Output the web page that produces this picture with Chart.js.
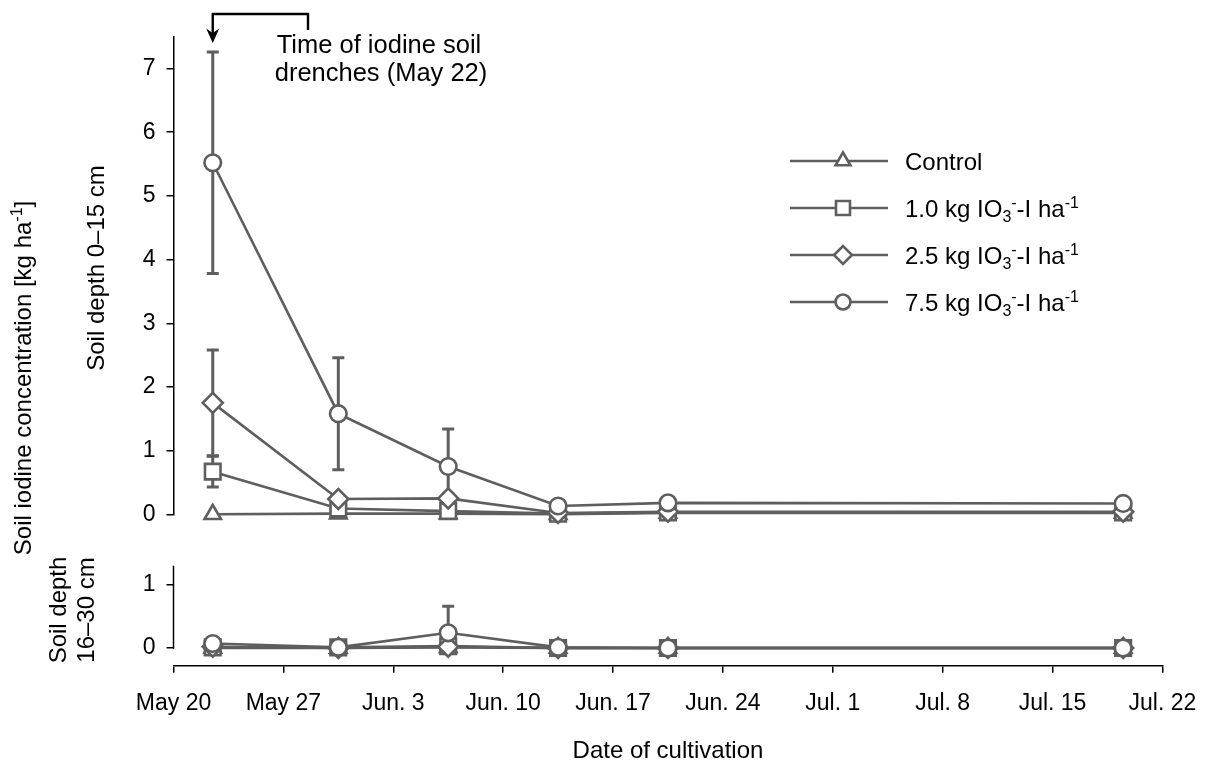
<!DOCTYPE html>
<html>
<head>
<meta charset="utf-8">
<title>Soil iodine concentration</title>
<script src="https://cdn.jsdelivr.net/npm/chart.js@4/dist/chart.umd.min.js"></script>
<style>
  html, body { margin: 0; padding: 0; background: #fff; }
  #wrap { position: relative; width: 1206px; height: 769px; }
  #wrap canvas { position: absolute; left: 0; top: 0; }
</style>
</head>
<body>
<div id="wrap">
  <canvas id="upper" width="1206" height="769"></canvas>
  <canvas id="lower" width="1206" height="769"></canvas>
</div>
<script>
// ---- data ----
const tickLabels = ['May 20', 'May 27', 'Jun. 3', 'Jun. 10', 'Jun. 17', 'Jun. 24', 'Jul. 1', 'Jul. 8', 'Jul. 15', 'Jul. 22'];
const sampleDates = ['May 22', 'May 30', 'Jun 6', 'Jun 13', 'Jun 20', 'Jul 19'];
const drenchDate = 'May 22';
const seriesNames = ['Control', '1.0 kg IO_{3}^{-}-I ha^{-1}', '2.5 kg IO_{3}^{-}-I ha^{-1}', '7.5 kg IO_{3}^{-}-I ha^{-1}'];

// soil depth 0–15 cm, kg ha-1 (mean, standard deviation)
const upperControl = [0.00, 0.01, 0.01, 0.00, 0.02, 0.02];
const upperIodate10 = [0.67, 0.09, 0.05, 0.01, 0.03, 0.03];
const upperIodate25 = [1.75, 0.24, 0.25, 0.02, 0.04, 0.04];
const upperIodate75 = [5.52, 1.58, 0.75, 0.13, 0.18, 0.17];
const upperControlSd = [0.00, 0.00, 0.00, 0.00, 0.00, 0.00];
const upperIodate10Sd = [0.24, 0.04, 0.03, 0.01, 0.02, 0.02];
const upperIodate25Sd = [0.83, 0.06, 0.07, 0.01, 0.02, 0.02];
const upperIodate75Sd = [1.74, 0.88, 0.59, 0.03, 0.04, 0.04];

// soil depth 16–30 cm, kg ha-1 (mean, standard deviation)
const lowerControl = [0.00, 0.00, 0.01, 0.00, 0.00, 0.00];
const lowerIodate10 = [0.01, 0.01, 0.03, 0.00, 0.00, 0.00];
const lowerIodate25 = [0.02, 0.00, 0.02, 0.00, 0.00, 0.00];
const lowerIodate75 = [0.07, 0.01, 0.24, 0.01, 0.00, 0.00];
const lowerControlSd = [0.00, 0.00, 0.00, 0.00, 0.00, 0.00];
const lowerIodate10Sd = [0.01, 0.00, 0.01, 0.00, 0.00, 0.00];
const lowerIodate25Sd = [0.01, 0.00, 0.01, 0.00, 0.00, 0.00];
const lowerIodate75Sd = [0.03, 0.01, 0.42, 0.01, 0.00, 0.00];

const upperTicks = [0, 1, 2, 3, 4, 5, 6, 7];
const lowerTicks = [0, 1];

// ---- styling ----
const FONT = '"Liberation Sans", Arial, Helvetica, sans-serif';
const GRAY = '#5e5e5e';
const markers = ['triangle', 'rect', 'rectRot', 'circle'];
const markerRadius = [9.5, 11, 10, 8.3];
const TICK_SIZE = 23;
const TITLE_SIZE = 24;

Chart.defaults.font.family = FONT;
Chart.defaults.color = '#000';

// days after May 20, centred on the day
function dayOffset(label) {
  const [mon, d] = label.split(' ');
  const monthStart = { May: 0, Jun: 31, Jul: 61 };
  return monthStart[mon] + Number(d) - 20 + 0.5;
}

function makeDatasets(values, errors) {
  return seriesNames.map((name, k) => ({
    label: name,
    data: sampleDates.map((d, i) => ({ x: dayOffset(d), y: values[k][i] })),
    errors: errors[k],
    borderColor: GRAY,
    borderWidth: 2.6,
    pointStyle: markers[k],
    pointRadius: markerRadius[k],
    pointHoverRadius: markerRadius[k],
    pointBackgroundColor: '#fff',
    pointBorderColor: GRAY,
    pointBorderWidth: 2.6,
    tension: 0,
    fill: false,
    clip: false,
    order: 3 - k
  }));
}

// ---- rich text (sub/superscripts) ----
function parseRich(s) {
  const parts = [];
  const re = /([_^])\{([^}]*)\}/g;
  let last = 0, m;
  while ((m = re.exec(s))) {
    if (m.index > last) parts.push({ t: s.slice(last, m.index), k: 'n' });
    parts.push({ t: m[2], k: m[1] === '_' ? 'sub' : 'sup' });
    last = re.lastIndex;
  }
  if (last < s.length) parts.push({ t: s.slice(last), k: 'n' });
  return parts;
}
function drawRich(ctx, s, x, y, size, align) {
  const parts = parseRich(s);
  const fontFor = k => (k === 'n' ? size : Math.round(size * 0.66)) + 'px ' + FONT;
  let w = 0;
  parts.forEach(p => { ctx.font = fontFor(p.k); p.w = ctx.measureText(p.t).width; w += p.w; });
  let cx = align === 'center' ? x - w / 2 : x;
  ctx.textAlign = 'left';
  ctx.textBaseline = 'alphabetic';
  parts.forEach(p => {
    ctx.font = fontFor(p.k);
    const dy = p.k === 'sup' ? -size * 0.36 : p.k === 'sub' ? size * 0.22 : 0;
    ctx.fillText(p.t, cx, y + dy);
    cx += p.w;
  });
}
function drawRotated(ctx, s, cx, cy, size) {
  ctx.save();
  ctx.translate(cx, cy);
  ctx.rotate(-Math.PI / 2);
  drawRich(ctx, s, 0, size * 0.36, size, 'center');
  ctx.restore();
}
function drawMarker(ctx, style, r, x, y) {
  const opts = { pointStyle: style, radius: r, rotation: 0, borderWidth: 2.6 };
  ctx.fillStyle = '#fff';
  ctx.strokeStyle = GRAY;
  ctx.lineWidth = 2.6;
  Chart.helpers.drawPoint(ctx, opts, x, y);
}

// ---- plugins ----
const errorBars = {
  id: 'errorBars',
  beforeDatasetsDraw(chart) {
    const { ctx } = chart;
    const ys = chart.scales.y;
    ctx.save();
    ctx.strokeStyle = GRAY;
    ctx.lineWidth = 3;
    chart.data.datasets.forEach((ds, k) => {
      const meta = chart.getDatasetMeta(k);
      ds.data.forEach((p, i) => {
        const e = ds.errors[i];
        if (!e) return;
        const px = meta.data[i].x;
        const hi = ys.getPixelForValue(p.y + e);
        const loVal = p.y - e;
        const clipped = loVal < 0;
        const lo = ys.getPixelForValue(Math.max(loVal, 0));
        ctx.beginPath();
        ctx.moveTo(px, hi); ctx.lineTo(px, lo);
        ctx.moveTo(px - 6, hi); ctx.lineTo(px + 6, hi);
        if (!clipped) { ctx.moveTo(px - 6, lo); ctx.lineTo(px + 6, lo); }
        ctx.stroke();
      });
    });
    ctx.restore();
  }
};

const upperDecor = {
  id: 'upperDecor',
  afterDraw(chart) {
    const { ctx } = chart;
    // legend: line with marker, then label
    const rowY0 = 161, rowGap = 47;
    chart.data.datasets.forEach((ds, k) => {
      const y = rowY0 + k * rowGap;
      ctx.save();
      ctx.strokeStyle = GRAY;
      ctx.lineWidth = 2.6;
      ctx.beginPath(); ctx.moveTo(790, y); ctx.lineTo(888, y); ctx.stroke();
      drawMarker(ctx, ds.pointStyle, ds.pointRadius * 0.9, 843, y);
      ctx.fillStyle = '#000';
      drawRich(ctx, ds.label, 905, y + 8.6, 24, 'left');
      ctx.restore();
    });

    // application marker: bracket arrow pointing at the drench date
    const ax = chart.scales.x.getPixelForValue(dayOffset(drenchDate));
    ctx.save();
    ctx.strokeStyle = '#000';
    ctx.fillStyle = '#000';
    ctx.lineWidth = 2.4;
    ctx.beginPath();
    ctx.moveTo(308, 30); ctx.lineTo(308, 14); ctx.lineTo(ax, 14); ctx.lineTo(ax, 36);
    ctx.stroke();
    ctx.beginPath();
    ctx.moveTo(ax, 43);
    ctx.lineTo(ax - 6.5, 28.5);
    ctx.lineTo(ax, 33);
    ctx.lineTo(ax + 6.5, 28.5);
    ctx.closePath();
    ctx.fill();
    ctx.font = '25.5px ' + FONT;
    ctx.textAlign = 'center';
    ctx.textBaseline = 'alphabetic';
    ctx.fillText('Time of iodine soil', 379, 53);
    ctx.fillText('drenches (May 22)', 381, 81);
    ctx.restore();
  }
};

const lowerDecor = {
  id: 'lowerDecor',
  afterDraw(chart) {
    const { ctx, chartArea } = chart;
    const ys = chart.scales.y;
    // vertical axis line for the 16–30 cm panel (0 up to its maximum)
    ctx.save();
    ctx.strokeStyle = '#000';
    ctx.lineWidth = 1.5;
    ctx.beginPath();
    ctx.moveTo(chartArea.left, ys.getPixelForValue(ys.max));
    ctx.lineTo(chartArea.left, ys.getPixelForValue(0) + 0.75);
    ctx.stroke();

    // vertical titles
    ctx.fillStyle = '#000';
    drawRotated(ctx, 'Soil iodine concentration [kg ha^{-1}]', 22, 378, TITLE_SIZE);
    drawRotated(ctx, 'Soil depth 0–15 cm', 95, 268, TITLE_SIZE);
    drawRotated(ctx, 'Soil depth', 57, 610, TITLE_SIZE);
    drawRotated(ctx, '16–30 cm', 85, 610, TITLE_SIZE);
    ctx.restore();
  }
};

// ---- shared axis pieces ----
const Y_AXIS_WIDTH = 173.5;
const RIGHT_PAD = 43.6;

function xScale(show) {
  return {
    type: 'linear',
    min: 0,
    max: (tickLabels.length - 1) * 7,
    display: show,
    afterBuildTicks: s => { s.ticks = tickLabels.map((_, i) => ({ value: i * 7 })); },
    afterFit: s => { s.paddingLeft = 0; s.paddingRight = 0; if (show) s.height = 769 - 665.7; },
    border: { display: true, color: '#000', width: 1.5 },
    grid: { drawOnChartArea: false, color: '#000', lineWidth: 1.5, tickLength: 7 },
    ticks: {
      font: { size: TICK_SIZE },
      color: '#000',
      padding: 17,
      maxRotation: 0,
      autoSkip: false,
      callback: v => tickLabels[Math.round(v / 7)]
    },
    title: { display: show, text: 'Date of cultivation', font: { size: TITLE_SIZE }, color: '#000', padding: { top: 0, bottom: 3 } }
  };
}
function yScale(min, max, ticks, showBorder) {
  return {
    type: 'linear',
    min, max,
    afterBuildTicks: s => { s.ticks = ticks.map(v => ({ value: v })); },
    afterFit: s => { s.width = Y_AXIS_WIDTH; s.paddingTop = 0; s.paddingBottom = 0; },
    border: { display: showBorder, color: '#000', width: 1.5 },
    grid: { drawOnChartArea: false, color: '#000', lineWidth: 1.5, tickLength: 7 },
    ticks: { font: { size: TICK_SIZE }, color: '#000', padding: 11, callback: v => String(v) }
  };
}

const common = {
  responsive: false,
  animation: false,
  events: [],
  plugins: { legend: { display: false }, tooltip: { enabled: false } }
};

new Chart(document.getElementById('upper'), {
  type: 'line',
  data: {
    datasets: makeDatasets(
      [upperControl, upperIodate10, upperIodate25, upperIodate75],
      [upperControlSd, upperIodate10Sd, upperIodate25Sd, upperIodate75Sd])
  },
  options: Object.assign({}, common, {
    layout: { padding: { left: 0, right: RIGHT_PAD, top: 36.7, bottom: 769 - 514.3 } },
    scales: { x: xScale(false), y: yScale(0, 7.5, upperTicks, true) }
  }),
  plugins: [errorBars, upperDecor]
});

new Chart(document.getElementById('lower'), {
  type: 'line',
  data: {
    datasets: makeDatasets(
      [lowerControl, lowerIodate10, lowerIodate25, lowerIodate75],
      [lowerControlSd, lowerIodate10Sd, lowerIodate25Sd, lowerIodate75Sd])
  },
  options: Object.assign({}, common, {
    layout: { padding: { left: 0, right: RIGHT_PAD, top: 565.7, bottom: 0 } },
    scales: { x: xScale(true), y: yScale(-0.28, 1.3, lowerTicks, false) }
  }),
  plugins: [errorBars, lowerDecor]
});
</script>
</body>
</html>
